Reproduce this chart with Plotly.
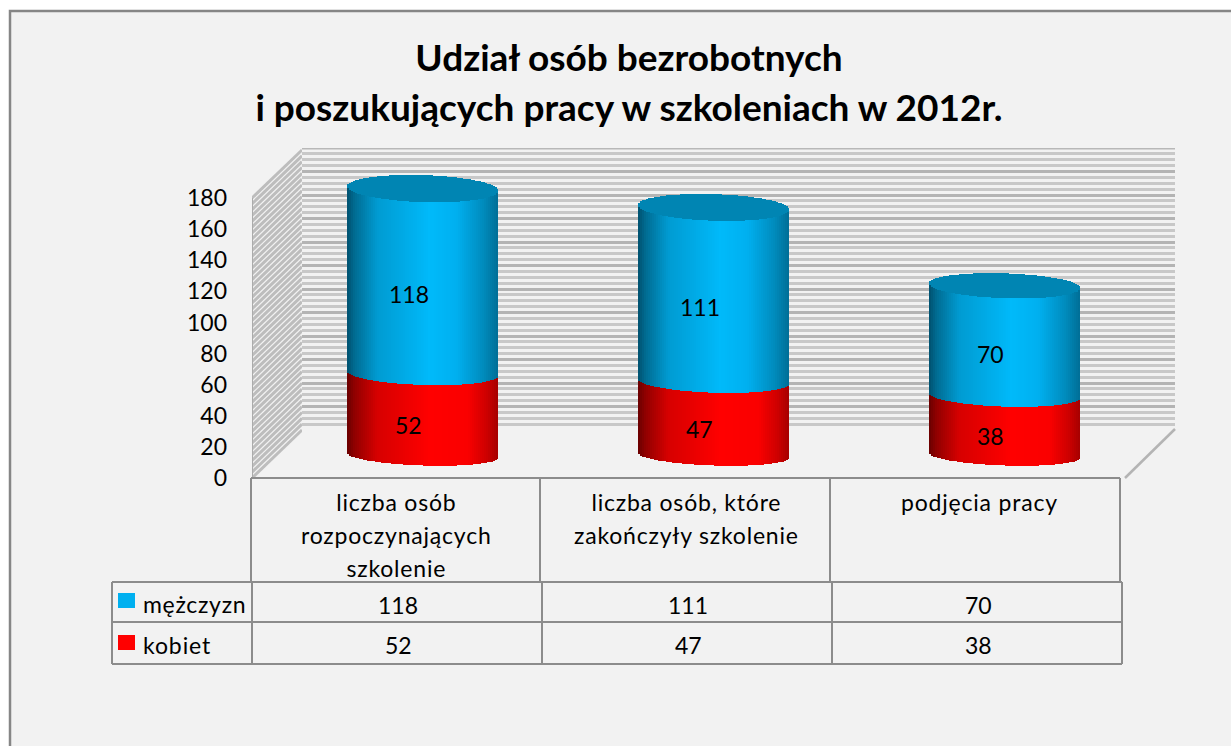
import plotly.graph_objects as go

W, H = 1231, 746

# ---------- data ----------
categories = ["liczba osób rozpoczynających szkolenie",
              "liczba osób, które zakończyły szkolenie",
              "podjęcia pracy"]
category_lines = ["liczba osób<br>rozpoczynających<br>szkolenie",
                  "liczba osób, które<br>zakończyły szkolenie",
                  "podjęcia pracy"]
kobiet = [52, 47, 38]
mezczyzn = [118, 111, 70]
series_names = ["mężczyzn", "kobiet"]
y_ticks = [0, 20, 40, 60, 80, 100, 120, 140, 160, 180]
title_lines = ["Udział osób bezrobotnych", "i poszukujących pracy w szkoleniach w 2012r."]

# ---------- style ----------
FONT = "Lato, Carlito, Calibri, sans-serif"
BG = "#f2f2f2"
LINE = "#8c8c8c"
BLUE_KEY, RED_KEY = "#00b0f0", "#ff0000"
CAP = "#0085b3"
BLUE_STOPS = [(-1, (0, 80, 110)), (-0.9, (0, 108, 146)), (-0.6, (0, 155, 210)),
              (0.1, (0, 186, 250)), (0.45, (0, 176, 240)), (0.8, (0, 140, 190)), (1, (0, 110, 150))]
RED_STOPS = [(-1, (105, 0, 0)), (-0.9, (145, 0, 0)), (-0.6, (215, 0, 0)),
             (0.1, (255, 0, 0)), (0.6, (250, 0, 0)), (0.85, (205, 0, 0)), (1, (165, 0, 0))]


def col(stops, t):
    for (a, ca), (b, cb) in zip(stops, stops[1:]):
        if a <= t <= b:
            f = (t - a) / (b - a)
            return "rgb(%d,%d,%d)" % tuple(round(p + (q - p) * f) for p, q in zip(ca, cb))
    return "rgb(%d,%d,%d)" % stops[-1][1]


def fx(px):
    return px / W


def fy(px):
    return 1 - px / H


def dom_y(top, bottom):
    return [fy(bottom), fy(top)]


# value scale of the cylinders
PX_PER_UNIT = 1.567
ZERO_PX = 455
CYL_TOP, CYL_BOTTOM = 130, 478
BAR_WIDTH = 151 / 291
N = 76

totals = [a + b for a, b in zip(kobiet, mezczyzn)]


def curve(v, t):
    """how far (in value units) the front edge of the cylinder at value v dips below its centre"""
    b_px = 10.5 + 3.0 * v / 170
    return (b_px * (1 - t * t) ** 0.5) / PX_PER_UNIT


def tilt(t):
    return 2.4 * t / PX_PER_UNIT


fig = go.Figure()

# back wall (x, y)
fig.add_trace(go.Scatter(x=[0, 1], y=[180, 180], xaxis="x", yaxis="y", mode="lines",
                         line=dict(color="#b8b8b8", width=3), hoverinfo="skip", showlegend=False))

# side wall + value axis (x2, y2)
SIDE_RISE = 48 / (280 / 180)
diag_x, diag_y = [], []
v = 0.0
while v <= 180:
    diag_x += [0, 1, None]
    diag_y += [v, v + SIDE_RISE, None]
    v += 3.75
fig.add_trace(go.Scatter(x=diag_x, y=diag_y, xaxis="x2", yaxis="y2", mode="lines",
                         line=dict(color="#bdbdbd", width=3), hoverinfo="skip", showlegend=False))
fig.add_trace(go.Scatter(x=[0, 0], y=[0, 180], xaxis="x2", yaxis="y2", mode="lines",
                         line=dict(color="#ababab", width=2), hoverinfo="skip", showlegend=False))

# cylinders (x3, y3): every cylinder is a stack of thin vertical bars
step = BAR_WIDTH / N
for i in range(N):
    t = -1 + (i + 0.5) * 2 / N
    off = -BAR_WIDTH / 2 + i * step
    w = step * 1.4 if i < N - 1 else step
    common = dict(x=categories, xaxis="x3", yaxis="y3", width=w, offset=off,
                  hoverinfo="skip", showlegend=False, marker_line_width=0)
    base_r = [-curve(0, t) - tilt(t) for _ in kobiet]
    top_r = [k - curve(k, t) - tilt(t) for k in kobiet]
    fig.add_trace(go.Bar(y=[b - a for a, b in zip(base_r, top_r)], base=base_r,
                         marker_color=col(RED_STOPS, t), **common))
    top_b = [s - curve(s, t) - tilt(t) for s in totals]
    fig.add_trace(go.Bar(y=[b - a for a, b in zip(top_r, top_b)], base=top_r,
                         marker_color=col(BLUE_STOPS, t), **common))
    top_c = [s + curve(s, t) - tilt(t) for s in totals]
    fig.add_trace(go.Bar(y=[b - a for a, b in zip(top_b, top_c)], base=top_b,
                         marker_color=CAP, **common))

annotations = []
LABEL = 23


def spaced(txt, ls):
    return '<span style="letter-spacing:%spx">%s</span>' % (ls, txt)


def note(text, x, y, size=LABEL, xanchor="center", yanchor="middle", xref="paper", yref="paper", **kw):
    annotations.append(dict(text=text, x=x, y=y, xref=xref, yref=yref, showarrow=False,
                            xanchor=xanchor, yanchor=yanchor, font=dict(family=FONT, size=size, color="#000000"),
                            **kw))


# data labels on the cylinders
for c, k, m in zip(categories, kobiet, mezczyzn):
    note(str(k), c, k / 2, xref="x3", yref="y3", xshift=-14, yshift=-11)
    note(str(m), c, k + m / 2, xref="x3", yref="y3", xshift=-14, yshift=-13)

# data table
header_edges = [251, 540, 830, 1120]
row_edges = [112, 252, 542, 832, 1122]
HEAD_TOP, ROW0, ROW1, ROW2 = 478, 582, 622, 664
shapes = [dict(type="rect", xref="paper", yref="paper", x0=fx(10), x1=fx(W + 20), y0=fy(11), y1=fy(H + 20),
               fillcolor=BG, line=dict(color="#868686", width=2.5), layer="below")]


def seg(x0, y0, x1, y1, color=LINE, width=2):
    shapes.append(dict(type="line", xref="paper", yref="paper", x0=fx(x0), x1=fx(x1), y0=fy(y0), y1=fy(y1),
                       line=dict(color=color, width=width)))


seg(header_edges[0], HEAD_TOP, header_edges[-1], HEAD_TOP)
for xe in header_edges:
    seg(xe, HEAD_TOP, xe, ROW0)
for yl in (ROW0, ROW1, ROW2):
    seg(row_edges[0], yl, row_edges[-1], yl)
for xe in row_edges:
    seg(xe, ROW0, xe, ROW2)
# floor edge on the right
seg(1125, 478, 1175, 429, color="#b4b4b4", width=2.5)

centers = [396, 686, 979]
for xc, txt in zip(centers, category_lines):
    styled = "<br>".join('<span style="font-size:23px;letter-spacing:0.8px">%s</span>' % s for s in txt.split("<br>"))
    note(styled, fx(xc), fy(486), size=25.5, yanchor="top")
for xc, m, k in zip([398, 688, 978], mezczyzn, kobiet):
    note(str(m), fx(xc), fy(604.5))
    note(str(k), fx(xc), fy(644.5))

# legend keys inside the table
keys = [(593, 608, BLUE_KEY, 604, 0.7), (635, 650, RED_KEY, 645, 0.9)]
for (y0, y1, colr, yc, ls), name in zip(keys, series_names):
    shapes.append(dict(type="rect", xref="paper", yref="paper", x0=fx(118), x1=fx(135), y0=fy(y0), y1=fy(y1),
                       fillcolor=colr, line_width=0))
    note(spaced(name, ls), fx(140.5), fy(yc), xanchor="left")

styled_title = "<br>".join('<span style="font-size:37px"><b>%s</b></span>' % s for s in title_lines)

hidden = dict(visible=False, showgrid=False, zeroline=False, fixedrange=True)
fig.update_layout(
    width=W, height=H, autosize=False,
    margin=dict(l=0, r=0, t=0, b=0, pad=0, autoexpand=False),
    paper_bgcolor="#ffffff", plot_bgcolor="rgba(0,0,0,0)",
    font=dict(family=FONT, color="#000000"),
    barmode="overlay", bargap=0, showlegend=False,
    title=dict(text=styled_title, x=fx(629), xanchor="center", xref="container",
               y=fy(71), yanchor="middle", yref="container",
               font=dict(family=FONT, size=38.5, color="#000000")),
    # back wall
    xaxis=dict(domain=[fx(302), fx(1175)], range=[0, 1], anchor="y", **hidden),
    yaxis=dict(domain=dom_y(148, 430), range=[0, 180], anchor="x", visible=True, showticklabels=False,
               ticks="", showline=False, zeroline=False, fixedrange=True,
               showgrid=True, gridcolor="#b4b4b4", gridwidth=3, dtick=15,
               minor=dict(showgrid=True, dtick=3.75, gridcolor="#c8c8c8", gridwidth=3)),
    # side wall and value axis
    xaxis2=dict(domain=[fx(252), fx(302)], range=[0, 1], anchor="y2", **hidden),
    yaxis2=dict(domain=dom_y(148, 478), range=[0, 330 / (280 / 180)], anchor="x2", visible=True,
                tickmode="array", tickvals=y_ticks, ticktext=[str(v) for v in y_ticks],
                tickfont=dict(family=FONT, size=LABEL, color="#000000"), ticks="", ticklabelstandoff=24,
                showgrid=False, zeroline=False, showline=False, fixedrange=True),
    # cylinders
    xaxis3=dict(domain=[fx(277), fx(1150)], type="category", categoryorder="array", categoryarray=categories,
                range=[-0.5, 2.5], anchor="y3", **hidden),
    yaxis3=dict(domain=dom_y(CYL_TOP, CYL_BOTTOM),
                range=[(ZERO_PX - CYL_BOTTOM) / PX_PER_UNIT, (ZERO_PX - CYL_TOP) / PX_PER_UNIT],
                anchor="x3", **hidden),
    shapes=shapes, annotations=annotations,
)

fig.write_html("out.html", config=dict(displayModeBar=False),
               post_script="document.body.style.margin='0';document.body.style.overflow='hidden';")
